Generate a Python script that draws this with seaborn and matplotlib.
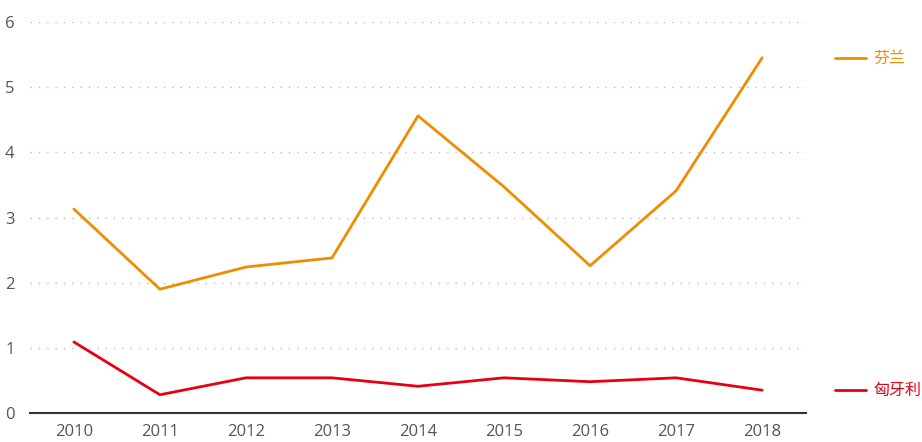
import numpy as np
import pandas as pd
import matplotlib
matplotlib.use("Agg")
import matplotlib.pyplot as plt
import seaborn as sns

years   = ["2010", "2011", "2012", "2013", "2014", "2015", "2016", "2017", "2018"]
finland = [3.13, 1.90, 2.24, 2.38, 4.56, 3.47, 2.26, 3.41, 5.45]
hungary = [1.09, 0.28, 0.54, 0.54, 0.41, 0.54, 0.48, 0.54, 0.35]
names   = ["芬兰", "匈牙利"]
colors  = ["#F08C00", "#E60012"]

df = pd.DataFrame({"year": years * 2,
                   "value": finland + hungary,
                   "country": [names[0]] * len(years) + [names[1]] * len(years)})

sns.set_style("white")
plt.rcParams["font.family"] = ["Open Sans", "Noto Sans CJK SC", "DejaVu Sans"]

fig = plt.figure(figsize=(9.22, 4.42), dpi=100)
ax = fig.add_axes([30 / 922, 29 / 442, 776 / 922, 391 / 442])

sns.lineplot(data=df, x="year", y="value", hue="country",
             palette=dict(zip(names, colors)), linewidth=2,
             legend=False, ax=ax)

ax.set_xlim(-0.51, len(years) - 0.49)
ax.set_ylim(0, 6)
ax.set_yticks(range(0, 7))
ax.set_xlabel("")
ax.set_ylabel("")
ax.yaxis.grid(True, linestyle=(0, (1, 5)), color="#bbbbbb", linewidth=1)
ax.xaxis.grid(False)
for s in ["top", "right", "left"]:
    ax.spines[s].set_visible(False)
ax.spines["bottom"].set_color("#333333")
ax.spines["bottom"].set_linewidth(1.5)
ax.tick_params(axis="both", length=0, labelsize=12, colors="#555555")
ax.tick_params(axis="x", pad=8)
ax.tick_params(axis="y", pad=11)

# end labels on the right
for name, col, vals in zip(names, colors, [finland, hungary]):
    yf = ax.transData.transform((0, vals[-1]))[1]
    fig.add_artist(plt.Line2D([835 / 922, 866 / 922], [yf / 442, yf / 442],
                              color=col, linewidth=2))
    fig.text(873 / 922, yf / 442, name, color=col, fontsize=11.5, va="center",
             family=["Noto Sans CJK SC", "DejaVu Sans"])

fig.savefig("out.png", dpi=100)
